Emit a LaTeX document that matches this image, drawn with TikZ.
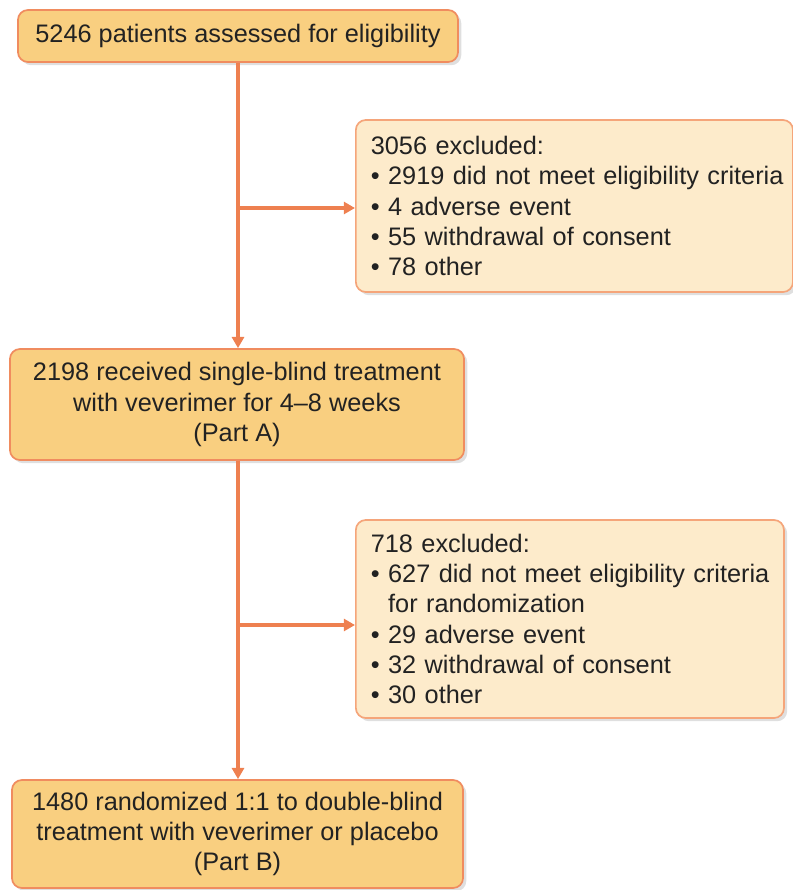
\documentclass[tikz,border=0pt]{standalone}
\usepackage{fontspec}
\setmainfont{Liberation Sans}
\usetikzlibrary{arrows.meta,shadows}

\definecolor{boxfill}{RGB}{249,207,128}
\definecolor{boxline}{RGB}{240,140,95}
\definecolor{exclfill}{RGB}{253,235,203}
\definecolor{exclline}{RGB}{245,165,122}
\definecolor{flowline}{RGB}{238,128,80}
\definecolor{txt}{RGB}{34,34,34}

\newcommand{\boxfont}{\fontsize{18}{21.6}\selectfont}

\tikzset{
    stagebox/.style={draw=boxline, fill=boxfill, line width=1.2pt, rounded corners=0.25cm,
        align=center, text=txt, inner sep=0pt,
        drop shadow={opacity=0.25, shadow xshift=0.08cm, shadow yshift=-0.08cm}},
    exclbox/.style={draw=exclline, fill=exclfill, line width=1.2pt, rounded corners=0.25cm,
        align=left, text=txt, inner xsep=0.375cm, inner ysep=0pt, anchor=west,
        drop shadow={opacity=0.25, shadow xshift=0.08cm, shadow yshift=-0.08cm}},
    flow/.style={draw=flowline, line width=2.2pt, -{Triangle[length=0.28cm,width=0.3cm]}},
}

\begin{document}
\begin{tikzpicture}[x=0.025cm, y=-0.025cm, font=\boxfont]
        \useasboundingbox (0,0) rectangle (793,890);

        \node[stagebox, minimum width=11cm, minimum height=1.3cm] (assessed) at (238,36)
            {5246 patients assessed for eligibility};
        \node[exclbox, text width=10.175cm, minimum height=4.3cm] (exclA) at (355,206)
            {3056 excluded:\\
             \mbox{• 2919 did not meet eligibility criteria}\\
             • 4 adverse event\\
             • 55 withdrawal of consent\\
             • 78 other};
        \node[exclbox, text width=9.95cm, minimum height=4.95cm] (exclB) at (355,619)
            {718 excluded:\\
             \mbox{• 627 did not meet eligibility criteria}\\
             \phantom{• }for randomization\\
             • 29 adverse event\\
             • 32 withdrawal of consent\\
             • 30 other};
        \node[stagebox, minimum width=11.35cm, minimum height=2.775cm] (partA) at (237,404.5)
            {2198 received single-blind treatment\\ with veverimer for 4–8 weeks\\ (Part A)};
        \node[stagebox, minimum width=11.275cm, minimum height=2.7cm] (partB) at (237.5,834)
            {1480 randomized 1:1 to double-blind\\ treatment with veverimer or placebo\\ (Part B)};

        \coordinate (splitA) at (238,208);   % branch to first exclusion
        \coordinate (splitB) at (238,625);   % branch to second exclusion

        \draw[flow] (assessed.south -| splitA) -- (partA.north -| splitA);
        \draw[flow] (splitA) -- (splitA -| exclA.west);
        \draw[flow] (partA.south -| splitB) -- (partB.north -| splitB);
        \draw[flow] (splitB) -- (splitB -| exclB.west);
\end{tikzpicture}
\end{document}
